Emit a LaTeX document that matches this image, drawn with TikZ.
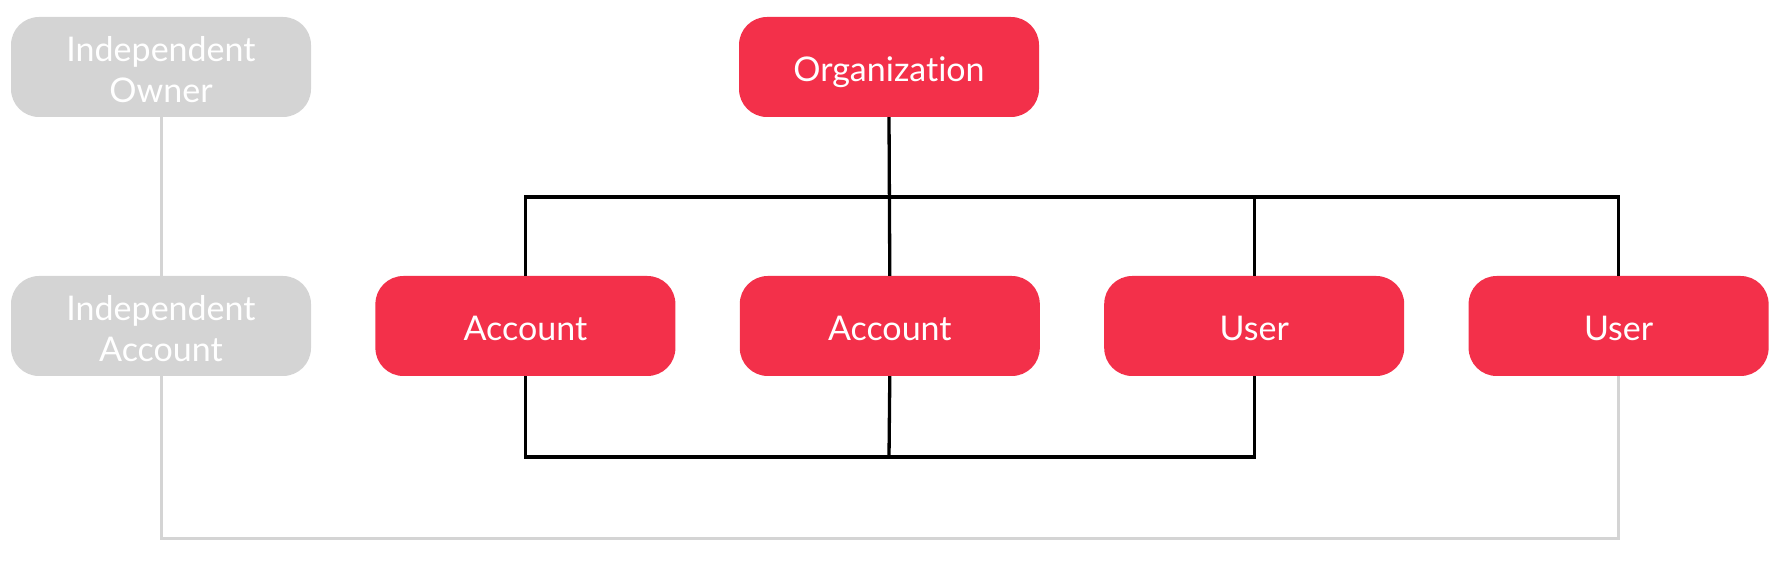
\documentclass[tikz,border=0pt]{standalone}
\usepackage{fontspec}
\setmainfont{Lato}[Ligatures={NoCommon,NoContextual}]
\usetikzlibrary{positioning}
\definecolor{orgred}{HTML}{F3304A}
\definecolor{faded}{HTML}{D4D4D4}

\begin{document}
\begin{tikzpicture}[x=1pt, y=1pt,
    every node/.style={rectangle, rounded corners=28pt, minimum width=300pt, minimum height=100pt,
      inner sep=0pt, text=white, align=center, text depth=0pt,
      font=\fontsize{34}{41}\selectfont},
    member/.style={fill=orgred, text height=30pt},
    loner/.style={fill=faded, text height=72pt},
    node distance=64pt,
    link/.style={draw=black, line width=3.3pt},
    loose/.style={draw=faded, line width=3pt},
    ]
  \useasboundingbox (0,0) rectangle (1782,562);
  \node[loner] (owner) at (161,495) {Independent\\Owner};
  \node[member] (org) at (889,495) {Organization};
  \node[loner] (indacc) at (161,236) {Independent\\Account};
  \node[member, right=of indacc] (acc1) {Account};
  \node[member, right=of acc1] (acc2) {Account};
  \node[member, right=of acc2] (user1) {User};
  \node[member, right=of user1] (user2) {User};
  \coordinate (bustop) at (889,365);
  \coordinate (busbot) at (889,105);
  \coordinate (farbot) at (889,24);
  \draw[link] (org.south) -- (acc2.north);
  \draw[link] (acc1.north) |- (bustop) -| (user2.north);
  \draw[link] (user1.north) -- (user1.north |- bustop);
  \draw[link] (acc1.south) |- (busbot) -| (user1.south);
  \draw[link] (acc2.south) -- (busbot);
  \draw[loose] (owner) -- (indacc);
  \draw[loose] (indacc.south) |- (farbot) -| (user2.south);
\end{tikzpicture}
\end{document}
